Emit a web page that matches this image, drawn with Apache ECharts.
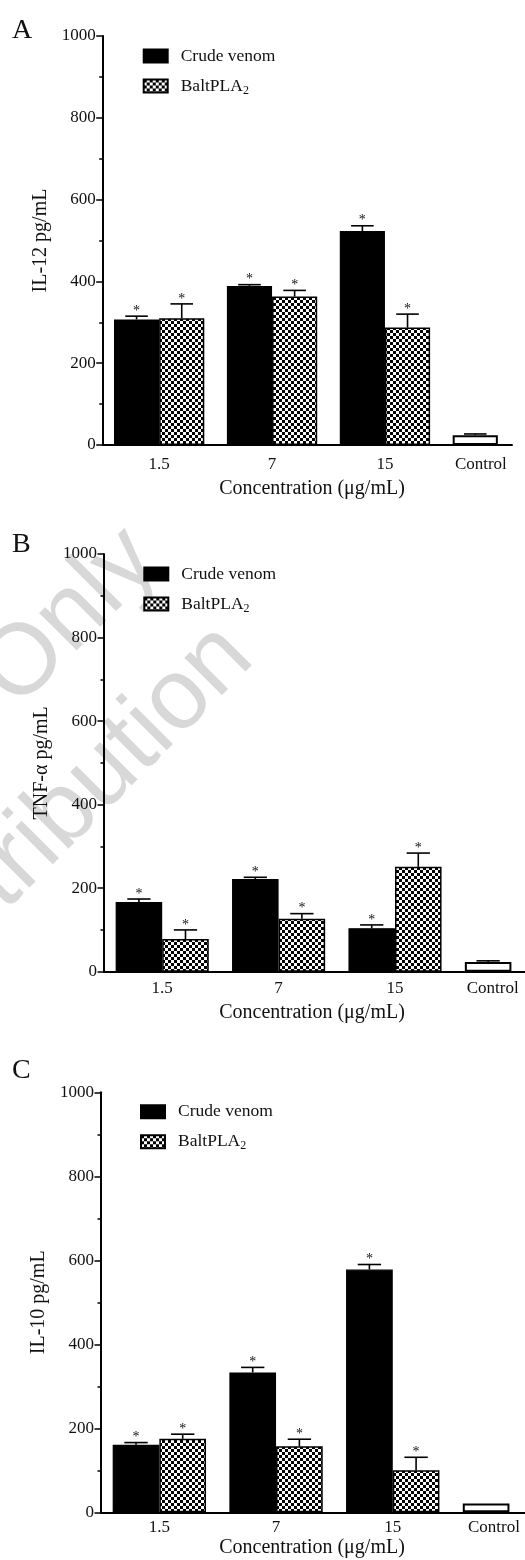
<!DOCTYPE html>
<html>
<head>
<meta charset="utf-8">
<script src="https://cdn.jsdelivr.net/npm/echarts@6/dist/echarts.min.js"></script>
<style>
  html, body { margin: 0; padding: 0; background: #fff; }
  #chart { width: 525px; height: 1560px; }
</style>
</head>
<body>
<div id="chart"></div>
<script>
// categories and tick settings
const categories = ['1.5', '7', '15', 'Control'];
const seriesNames = ['Crude venom', 'BaltPLA2'];
const yMin = 0, yMax = 1000, yStep = 200;

// A - IL-12 (pg/mL), mean and upper error
const il12Crude = [307, 389, 523];
const il12CrudeErr = [8, 3, 13];
const il12Balt = [310, 363, 287];
const il12BaltErr = [35, 15, 33];
const il12Control = 24;
const il12ControlErr = 3;

// B - TNF-alpha (pg/mL)
const tnfCrude = [167, 222, 104];
const tnfCrudeErr = [7, 4, 8];
const tnfBalt = [78, 127, 251];
const tnfBaltErr = [22, 12, 33];
const tnfControl = 23;
const tnfControlErr = 3;

// C - IL-10 (pg/mL)
const il10Crude = [161, 333, 578];
const il10CrudeErr = [5, 12, 12];
const il10Balt = [175, 157, 100];
const il10BaltErr = [11, 17, 31];
const il10Control = 21;
const il10ControlErr = 0;

// significance marks over the treated bars
const crudeMarks = ['*', '*', '*'];
const baltMarks = ['*', '*', '*'];

const FONT = 'Liberation Serif';
const INK = '#111';

// checker fill for BaltPLA2
const pat = document.createElement('canvas');
pat.width = 6; pat.height = 6;
const pctx = pat.getContext('2d');
pctx.fillStyle = '#fff'; pctx.fillRect(0, 0, 6, 6);
pctx.fillStyle = '#000';
pctx.fillRect(0, 0, 3, 3);
pctx.fillRect(3, 3, 3, 3);
const checker = { image: pat, repeat: 'repeat' };

const panels = [
  { letter: 'A', yName: 'IL-12 pg/mL', crude: il12Crude, crudeErr: il12CrudeErr, balt: il12Balt, baltErr: il12BaltErr, ctrl: il12Control, ctrlErr: il12ControlErr,
    box: { left: 102.7, top: 36, height: 409, band: 112.9, labelMargin: 11, ctrlShift: 17, titleY: 489, letterY: 30.5, legendLeft: 142.7, legendTop: 46 } },
  { letter: 'B', yName: 'TNF-\u03b1 pg/mL', crude: tnfCrude, crudeErr: tnfCrudeErr, balt: tnfBalt, baltErr: tnfBaltErr, ctrl: tnfControl, ctrlErr: tnfControlErr,
    box: { left: 104, top: 554, height: 417.7, band: 116.4, labelMargin: 8, ctrlShift: 18.7, titleY: 1013, letterY: 544.5, legendLeft: 143.3, legendTop: 564 } },
  { letter: 'C', yName: 'IL-10 pg/mL', crude: il10Crude, crudeErr: il10CrudeErr, balt: il10Balt, baltErr: il10BaltErr, ctrl: il10Control, ctrlErr: il10ControlErr,
    box: { left: 101, top: 1092.3, height: 420, band: 116.7, labelMargin: 6.5, ctrlShift: 15.5, titleY: 1548, letterY: 1070.5, legendLeft: 140, legendTop: 1101.7 } }
];

function errorSeries(idx, slot, values, errs, marks) {
  const data = values.map((v, i) => [i, v, errs[i]]);
  return {
    type: 'custom',
    name: 'err' + idx + slot,
    xAxisIndex: idx,
    yAxisIndex: idx,
    z: 4,
    silent: true,
    data: data,
    renderItem: function (params, api) {
      const cat = api.value(0), v = api.value(1), e = api.value(2);
      const bw = api.size([1, 0])[0] * 0.4;
      const base = api.coord([cat, v]);
      const top = api.coord([cat, v + e]);
      const x = base[0] + slot * bw / 2;
      const cap = bw * 0.25;
      const kids = [];
      if (e > 0) {
        kids.push({ type: 'line', shape: { x1: x, y1: base[1], x2: x, y2: top[1] }, style: { stroke: '#000', lineWidth: 1.6 } });
        kids.push({ type: 'line', shape: { x1: x - cap, y1: top[1], x2: x + cap, y2: top[1] }, style: { stroke: '#000', lineWidth: 1.6 } });
      }
      const m = marks[params.dataIndex];
      if (m) {
        kids.push({ type: 'text', style: { text: m, x: x, y: top[1] + 2, align: 'center', verticalAlign: 'bottom', fontSize: 14, fontFamily: FONT, fill: INK } });
      }
      return { type: 'group', children: kids };
    }
  };
}

const grid = [], xAxis = [], yAxis = [], series = [], legend = [], graphic = [];

panels.forEach((p, i) => {
  const b = p.box;
  grid.push({ left: b.left, top: b.top, height: b.height, width: b.band * 4, outerBoundsMode: 'none', containLabel: false });
  xAxis.push({
    type: 'category', gridIndex: i, data: categories,
    axisLine: { show: i !== 0, onZero: false, lineStyle: { color: '#000', width: 2 } },
    axisTick: { show: false },
    axisLabel: {
      margin: b.labelMargin, fontSize: 17, fontFamily: FONT, color: INK,
      formatter: v => v === 'Control' ? '{c|Control}' : v,
      rich: { c: { fontSize: 17, fontFamily: FONT, color: INK, padding: [0, 2 * b.ctrlShift, 0, 0] } }
    }
  });
  yAxis.push({
    type: 'value', gridIndex: i, min: yMin, max: yMax, interval: yStep,
    name: p.yName, nameLocation: 'middle', nameGap: 46,
    nameTextStyle: { fontSize: 20, fontFamily: FONT, color: INK },
    axisLine: { show: true, lineStyle: { color: '#000', width: 2 } },
    axisTick: { show: true, length: 6.5, lineStyle: { color: '#000', width: 1.5 } },
    minorTick: { show: true, splitNumber: 2, length: 3.5, lineStyle: { color: '#000', width: 1.5 } },
    axisLabel: { margin: 7, fontSize: 17, fontFamily: FONT, color: INK, formatter: v => String(v) },
    splitLine: { show: false }
  });
  series.push({
    type: 'bar', name: seriesNames[0], xAxisIndex: i, yAxisIndex: i,
    barGap: '0%', barCategoryGap: '20%',
    itemStyle: { color: '#000', borderColor: '#000', borderWidth: 1.2 },
    data: p.crude.concat([{ value: p.ctrl, itemStyle: { color: '#fff', borderColor: '#000', borderWidth: 2 } }])
  });
  series.push({
    type: 'bar', name: seriesNames[1], xAxisIndex: i, yAxisIndex: i,
    barGap: '0%', barCategoryGap: '20%',
    itemStyle: { color: checker, borderColor: '#000', borderWidth: 1.5 },
    data: p.balt.concat(['-'])
  });
  series.push(errorSeries(i, -1, p.crude.concat([p.ctrl]), p.crudeErr.concat([p.ctrlErr]), crudeMarks.concat([''])));
  series.push(errorSeries(i, 1, p.balt, p.baltErr, baltMarks));
  legend.push({
    orient: 'vertical', left: b.legendLeft, top: b.legendTop, padding: 0,
    itemWidth: 24, itemHeight: 13, itemGap: 10, icon: 'rect',
    data: seriesNames, selectedMode: false,
    formatter: n => n === 'BaltPLA2' ? 'BaltPLA{s|2}' : n,
    textStyle: {
      fontSize: 17.5, fontFamily: FONT, color: INK, lineHeight: 20, padding: [0, 0, 0, 8],
      rich: { s: { fontSize: 12, fontFamily: FONT, color: INK, padding: [9, 0, 0, 0] } }
    }
  });
  graphic.push({ type: 'text', left: 12, top: b.letterY - 14, style: { text: p.letter, fontSize: 28, fontFamily: FONT, fill: INK } });
  graphic.push({ type: 'text', x: 312, y: b.titleY, style: { text: 'Concentration (\u03bcg/mL)', fontSize: 20, fontFamily: FONT, fill: INK, align: 'center', verticalAlign: 'middle' } });
});

// panel A: its x axis line stops short of the right edge
grid.push({ left: 102.7, top: 36, height: 409, width: 409.3, outerBoundsMode: 'none', containLabel: false });
xAxis.push({ type: 'value', gridIndex: 3, min: 0, max: 1, axisLine: { show: true, onZero: false, lineStyle: { color: '#000', width: 2 } }, axisTick: { show: false }, axisLabel: { show: false }, splitLine: { show: false } });
yAxis.push({ type: 'value', gridIndex: 3, show: false });

// faint watermark across panel B
graphic.push({ type: 'text', x: 70, y: 618, rotation: Math.PI / 4, z: -10, style: { text: 'Only', fontSize: 100, fontFamily: 'Liberation Sans', fill: '#d8d8d8', align: 'center', verticalAlign: 'middle' } });
graphic.push({ type: 'text', x: 60, y: 818, rotation: Math.PI / 4, z: -10, style: { text: 'Distribution', fontSize: 100, fontFamily: 'Liberation Sans', fill: '#d8d8d8', align: 'center', verticalAlign: 'middle' } });

const chart = echarts.init(document.getElementById('chart'));
chart.setOption({
  animation: false,
  backgroundColor: '#fff',
  grid: grid,
  xAxis: xAxis,
  yAxis: yAxis,
  legend: legend,
  graphic: graphic,
  series: series
});
</script>
</body>
</html>
